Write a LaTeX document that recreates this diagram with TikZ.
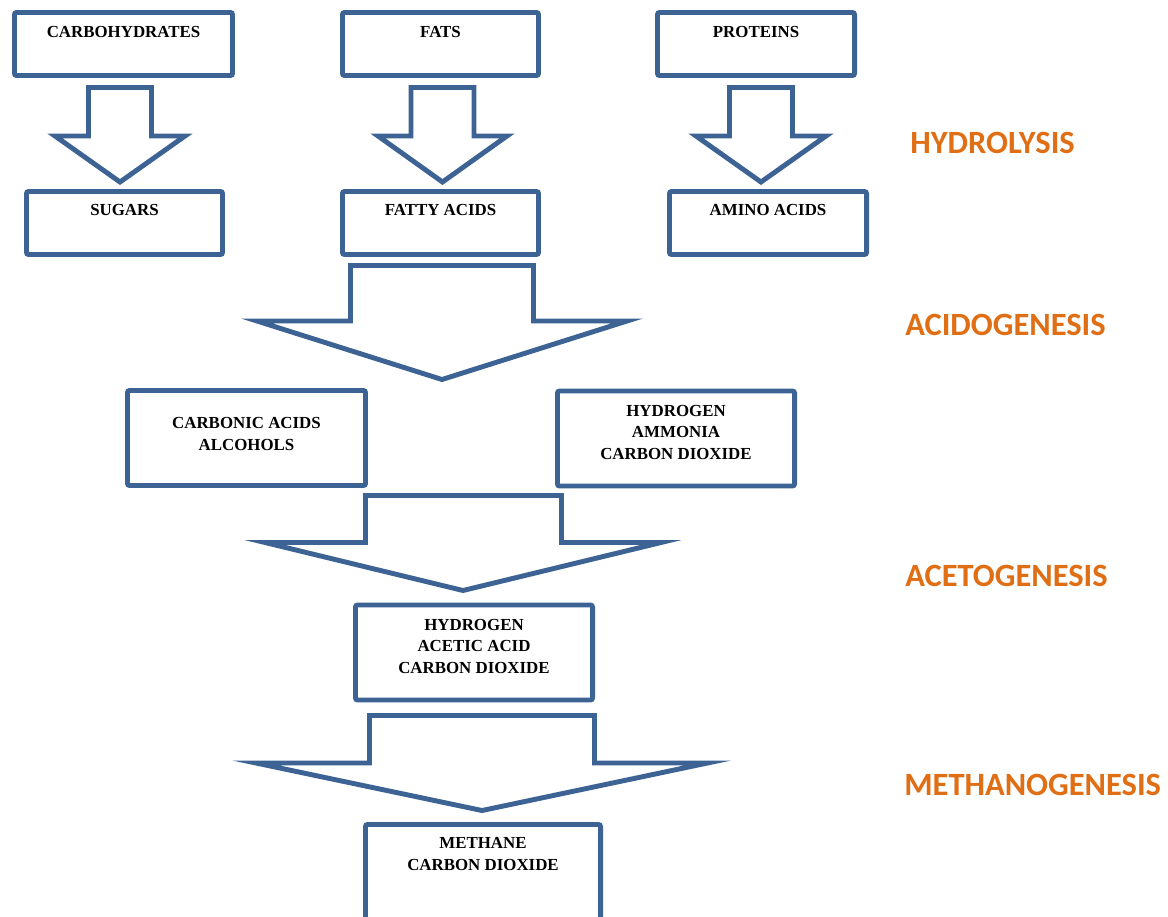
\documentclass[tikz,border=0pt]{standalone}
\usepackage{fontspec}
\setmainfont{Liberation Serif}
\newfontfamily\stagefont{Carlito}
\usetikzlibrary{positioning}
\definecolor{boxblue}{RGB}{61,99,148}
\definecolor{stageorange}{RGB}{224,110,20}

\begin{document}
\begin{tikzpicture}[
  x=0.025cm, y=-0.025cm,
  box/.style={draw=boxblue, line width=3.5pt, fill=white, rounded corners=1.5pt, inner sep=0pt, minimum height=1.575cm},
  tallbox/.style={box, minimum height=2.375cm},
  blockarrow/.style={draw=boxblue, line width=3.5pt, fill=white},
  boxtxt/.style={font=\fontsize{12}{15.3}\selectfont\bfseries, align=center, inner sep=0pt},
  stage/.style={font=\stagefont\fontsize{23.1}{26}\selectfont\bfseries, text=stageorange, anchor=west, inner sep=0pt}
]
\useasboundingbox (0,0) rectangle (1168,916);

% === Hydrolysis: polymers -> monomers ===
\node[box, minimum width=5.45cm] (carb) at (123.5,44) {};
\node[box, minimum width=4.9cm] (fats) at (440.5,44) {};
\node[box, minimum width=4.925cm] (prot) at (756,44) {};

\node[boxtxt, below=0.39cm] (carbt) at (carb.north) {CARBOHYDRATES};
\node[boxtxt, below=0.39cm] (fatst) at (fats.north) {FATS};
\node[boxtxt, below=0.39cm] (prott) at (prot.north) {PROTEINS};

% small block arrows
\draw[blockarrow] (88.5,87.5) -- (151.5,87.5) -- (151.5,136) -- (185,136) -- (120,182) -- (55,136) -- (88.5,136) -- cycle;
\draw[blockarrow] (411,87.5) -- (474,87.5) -- (474,136) -- (507,136) -- (442.5,182) -- (378,136) -- (411,136) -- cycle;
\draw[blockarrow] (729.5,87.5) -- (792.5,87.5) -- (792.5,136) -- (826,136) -- (761,182) -- (696,136) -- (729.5,136) -- cycle;

\node[box, minimum width=4.9cm] (sug) at (124.5,223) {};
\node[box, minimum width=4.9cm] (fatty) at (440.5,223) {};
\node[box, minimum width=4.925cm] (amino) at (768,223) {};

\node[boxtxt, below=0.37cm] (sugt) at (sug.north) {SUGARS};
\node[boxtxt, below=0.37cm] (fattyt) at (fatty.north) {FATTY ACIDS};
\node[boxtxt, below=0.37cm] (aminot) at (amino.north) {AMINO ACIDS};

% === Acidogenesis ===
\draw[blockarrow] (350.5,265.5) -- (533.5,265.5) -- (533.5,321) -- (627,321) -- (442,379.5) -- (257,321) -- (350.5,321) -- cycle;

\node[tallbox, minimum width=5.95cm] (carbon) at (246.5,438) {};
\node[tallbox, minimum width=5.925cm] (hydone) at (676,438.5) {};

\node[boxtxt, below=0.73cm] (carbont) at (carbon.north) {CARBONIC ACIDS\\ALCOHOLS};
\node[boxtxt, below=0.41cm] (hydonet) at (hydone.north) {HYDROGEN\\AMMONIA\\CARBON DIOXIDE};

% === Acetogenesis ===
\draw[blockarrow] (365.5,495.5) -- (561.5,495.5) -- (561.5,542.5) -- (661,542.5) -- (463,590.5) -- (265,542.5) -- (365.5,542.5) -- cycle;

\node[tallbox, minimum width=5.925cm] (hydtwo) at (474,652.5) {};
\node[boxtxt, below=0.4cm] (hydtwot) at (hydtwo.north) {HYDROGEN\\ACETIC ACID\\CARBON DIOXIDE};

% === Methanogenesis ===
\draw[blockarrow] (369.5,715.5) -- (594.5,715.5) -- (594.5,763) -- (707.5,763) -- (482,810.5) -- (256,763) -- (369.5,763) -- cycle;

\node[tallbox, minimum width=5.875cm] (meth) at (483,872) {};
\node[boxtxt, below=0.38cm] (metht) at (meth.north) {METHANE\\CARBON DIOXIDE};

% stage names
\node[stage] (hydro) at (910,143) {HYDROLYSIS};
\node[stage] (acido) at (905,325) {ACIDOGENESIS};
\node[stage] (aceto) at (905,576) {ACETOGENESIS};
\node[stage] (metha) at (904,785) {METHANOGENESIS};

\end{tikzpicture}
\end{document}
